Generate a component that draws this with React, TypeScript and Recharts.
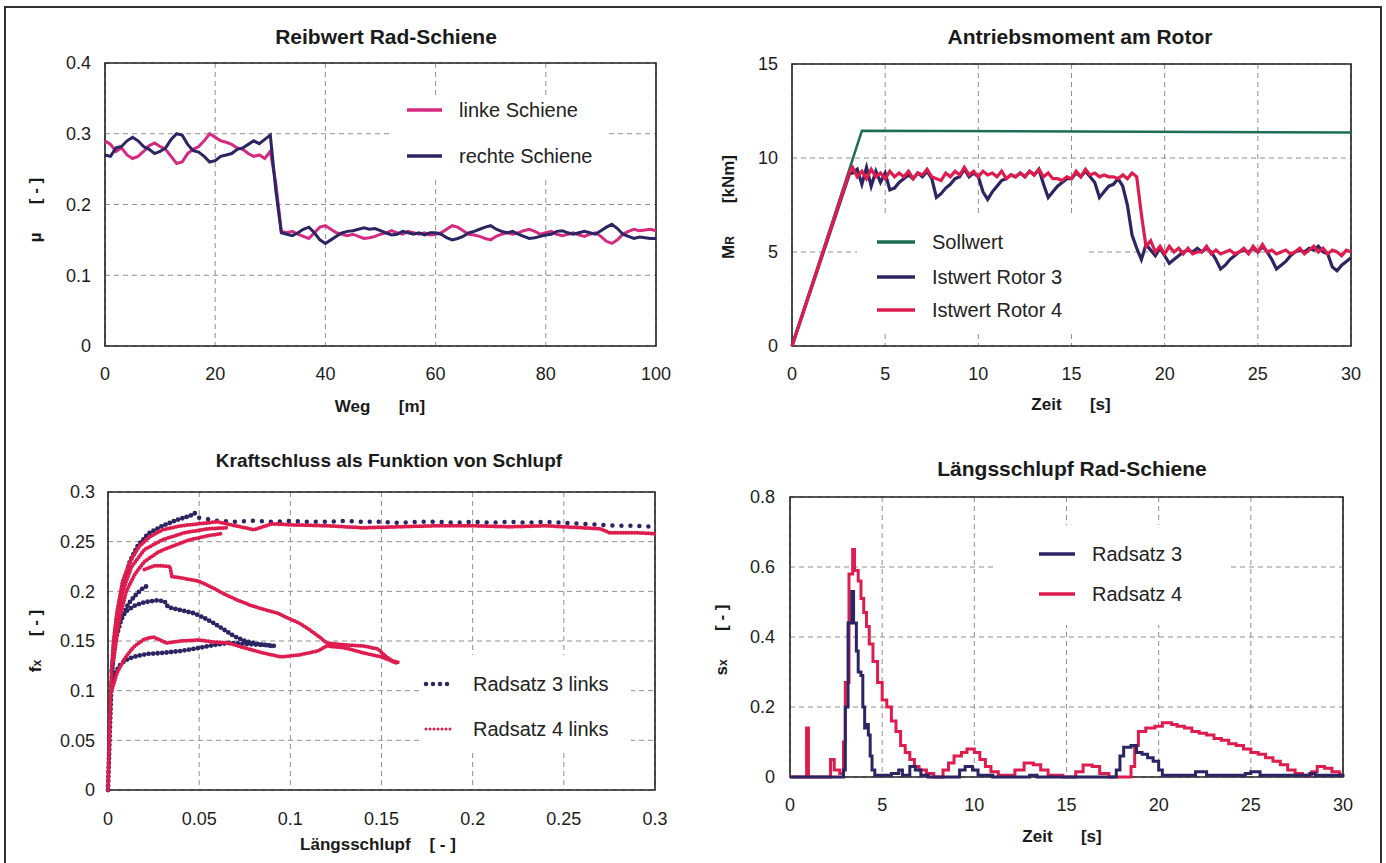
import React from "react";
import {
  LineChart,
  Line,
  XAxis,
  YAxis,
  CartesianGrid,
  ReferenceArea,
  Legend,
} from "recharts";

const FONT = '"Liberation Sans", Arial, Helvetica, sans-serif';
const PINK = "#d42a80";
const NAVY = "#2b2563";
const RED = "#de1d4e";
const GREEN = "#1d6e50";
const GRID = "#8f8f8f";
const FRAME = "#222";

// ---- Reibwert Rad-Schiene (Weg in m, mu) ----
const WEG = [
  0, 1, 2, 3, 4, 5, 6, 7, 8, 9, 10, 11, 12, 13, 14, 15, 16, 17, 18, 19, 20,
  21, 22, 23, 24, 25, 26, 27, 28, 29, 30, 31, 32, 33, 34, 35, 36, 37, 38, 39, 40,
  41, 42, 43, 44, 45, 46, 47, 48, 49, 50, 51, 52, 53, 54, 55, 56, 57, 58, 59, 60,
  61, 62, 63, 64, 65, 66, 67, 68, 69, 70, 71, 72, 73, 74, 75, 76, 77, 78, 79, 80,
  81, 82, 83, 84, 85, 86, 87, 88, 89, 90, 91, 92, 93, 94, 95, 96, 97, 98, 99, 100,
];
const LINKE_SCHIENE = [
  0.29, 0.285, 0.275, 0.28, 0.27, 0.265, 0.268, 0.275, 0.283, 0.287, 0.282,
  0.278, 0.268, 0.258, 0.26, 0.272, 0.278, 0.282, 0.29, 0.3, 0.295,
  0.29, 0.288, 0.285, 0.28, 0.278, 0.272, 0.268, 0.27, 0.265, 0.275,
  0.23, 0.162, 0.16, 0.162, 0.158, 0.155, 0.152, 0.16, 0.168, 0.17,
  0.165, 0.16, 0.158, 0.156, 0.158, 0.155, 0.152, 0.153, 0.155, 0.158,
  0.16, 0.163, 0.16, 0.158, 0.162, 0.16, 0.158, 0.16, 0.157, 0.158,
  0.16, 0.165, 0.17, 0.168, 0.163, 0.158, 0.157, 0.155, 0.152, 0.15,
  0.155, 0.158, 0.16, 0.158, 0.16, 0.163, 0.165, 0.162, 0.158, 0.16,
  0.162, 0.158, 0.156, 0.158, 0.16, 0.157, 0.155, 0.158, 0.16, 0.155,
  0.148, 0.145, 0.15, 0.158, 0.162, 0.165, 0.163, 0.164, 0.165, 0.163,
];
const RECHTE_SCHIENE = [
  0.27, 0.268, 0.28, 0.282, 0.29, 0.295, 0.29, 0.282, 0.278, 0.272, 0.275,
  0.28, 0.292, 0.3, 0.298, 0.285, 0.276, 0.274, 0.268, 0.26, 0.262,
  0.268, 0.27, 0.272, 0.278, 0.28, 0.285, 0.29, 0.286, 0.292, 0.298,
  0.22, 0.16, 0.158, 0.156, 0.16, 0.165, 0.168, 0.16, 0.15, 0.145,
  0.15, 0.155, 0.16, 0.162, 0.163, 0.165, 0.167, 0.165, 0.166, 0.163,
  0.16, 0.157, 0.158, 0.162, 0.16, 0.158, 0.16, 0.157, 0.16, 0.16,
  0.158, 0.153, 0.15, 0.152, 0.155, 0.16, 0.162, 0.165, 0.168, 0.17,
  0.165, 0.162, 0.16, 0.162, 0.158, 0.155, 0.152, 0.153, 0.155, 0.157,
  0.158, 0.162, 0.163, 0.16, 0.158, 0.16, 0.162, 0.16, 0.158, 0.163,
  0.168, 0.172, 0.166, 0.158, 0.155, 0.152, 0.154, 0.153, 0.152, 0.152,
];

// ---- Antriebsmoment am Rotor (Zeit in s, kNm) ----
const ZEIT_SOLL = [0, 3.75, 30];
const SOLLWERT = [0, 11.45, 11.35];
const ZEIT_ROTOR = [
  0, 3.1,
  3.25, 3.5, 3.75, 4, 4.25, 4.5, 4.75, 5, 5.25, 5.5, 5.75, 6,
  6.25, 6.5, 6.75, 7, 7.25, 7.5, 7.75, 8, 8.25, 8.5, 8.75, 9,
  9.25, 9.5, 9.75, 10, 10.25, 10.5, 10.75, 11, 11.25, 11.5, 11.75, 12,
  12.25, 12.5, 12.75, 13, 13.25, 13.5, 13.75, 14, 14.25, 14.5, 14.75, 15,
  15.25, 15.5, 15.75, 16, 16.25, 16.5, 16.75, 17, 17.25, 17.5, 17.75, 18,
  18.25, 18.5, 18.75, 19, 19.25, 19.5, 19.75, 20, 20.25, 20.5, 20.75, 21,
  21.25, 21.5, 21.75, 22, 22.25, 22.5, 22.75, 23, 23.25, 23.5, 23.75, 24,
  24.25, 24.5, 24.75, 25, 25.25, 25.5, 25.75, 26, 26.25, 26.5, 26.75, 27,
  27.25, 27.5, 27.75, 28, 28.25, 28.5, 28.75, 29, 29.25, 29.5, 29.75, 30,
];
const ISTWERT_ROTOR_3 = [
  0, 9.2,
  9.2, 9.4, 8.6, 9.5, 8.5, 9.3, 8.7, 9.2, 8.3, 8.4, 8.7, 8.9,
  9.1, 8.9, 9.2, 9.0, 9.3, 8.9, 7.9, 8.1, 8.4, 8.6, 8.9, 9.0,
  9.4, 9.0, 9.2, 9.0, 8.2, 7.8, 8.2, 8.5, 8.8, 8.9, 9.1, 9.0,
  9.2, 9.0, 9.3, 9.1, 9.4, 8.6, 7.9, 8.2, 8.5, 8.7, 8.9, 8.9,
  9.2, 9.0, 9.3, 9.0, 8.7, 7.9, 8.2, 8.5, 8.6, 8.9, 8.5, 7.5,
  5.9, 5.2, 4.6, 5.4, 5.1, 4.8, 5.2, 4.8, 4.4, 4.6, 4.8, 5.0,
  5.1, 5.0, 5.2, 5.0, 5.2, 5.0, 4.6, 4.1, 4.3, 4.6, 4.8, 5.0,
  5.1, 5.0, 5.2, 5.0, 5.3, 5.0, 4.6, 4.1, 4.3, 4.5, 4.8, 5.0,
  5.1, 5.0, 5.2, 5.1, 5.3, 5.0, 4.9, 4.2, 4.0, 4.3, 4.5, 4.7,
];
const ISTWERT_ROTOR_4 = [
  0, 9.3,
  9.5, 9.0, 9.3, 8.9, 9.4, 9.0, 9.2, 8.9, 9.3, 9.0, 9.2, 9.0,
  9.3, 8.9, 9.2, 9.1, 9.4, 9.0, 8.9, 8.8, 9.2, 9.0, 9.3, 9.1,
  9.5, 9.1, 9.3, 9.0, 9.3, 9.1, 9.2, 9.0, 9.3, 8.9, 9.1, 9.0,
  9.2, 9.0, 9.3, 9.1, 9.4, 9.0, 9.2, 8.9, 8.9, 8.8, 9.0, 8.9,
  9.3, 9.0, 9.4, 9.1, 9.2, 9.0, 9.1, 9.0, 9.0, 8.9, 9.1, 8.9,
  9.2, 9.0, 7.0, 5.3, 5.6, 5.0, 5.3, 4.9, 5.3, 5.0, 5.2, 4.9,
  5.2, 4.9, 5.0, 5.0, 5.3, 4.9, 5.1, 4.9, 5.0, 5.1, 4.9, 5.0,
  5.2, 4.9, 5.3, 5.0, 5.4, 5.0, 5.1, 4.9, 5.0, 5.1, 4.9, 5.0,
  5.2, 4.9, 5.1, 5.3, 5.0, 5.2, 4.9, 5.1, 5.0, 4.8, 5.1, 5.0,
];

// ---- Kraftschluss als Funktion von Schlupf: [Längsschlupf, fx] ----
const R3_AUFSTIEG = [
  [0, 0], [0.001, 0.06], [0.002, 0.11], [0.003, 0.14], [0.005, 0.175], [0.008, 0.205],
  [0.012, 0.23], [0.016, 0.245], [0.022, 0.258], [0.03, 0.266], [0.038, 0.272],
  [0.045, 0.276], [0.048, 0.279],
];
const R3_SPITZE = [
  [0.002, 0.12], [0.004, 0.15], [0.007, 0.17], [0.011, 0.187], [0.015, 0.196],
  [0.019, 0.203], [0.021, 0.205],
];
const R3_ABFALL = [
  [0.006, 0.17], [0.01, 0.18], [0.015, 0.186], [0.02, 0.189], [0.027, 0.191], [0.031, 0.19],
  [0.033, 0.184], [0.04, 0.181], [0.047, 0.178], [0.053, 0.173], [0.058, 0.168],
  [0.064, 0.161], [0.069, 0.155], [0.075, 0.15], [0.082, 0.147], [0.09, 0.145],
];
const R3_UNTEN = [
  [0.002, 0.105], [0.004, 0.118], [0.007, 0.127], [0.011, 0.132], [0.016, 0.135],
  [0.022, 0.137], [0.03, 0.138], [0.04, 0.14], [0.05, 0.143], [0.058, 0.146],
  [0.066, 0.148], [0.076, 0.147], [0.086, 0.146], [0.092, 0.145],
];
const R3_PLATEAU = [
  [0.05, 0.274], [0.06, 0.271], [0.07, 0.27], [0.08, 0.271], [0.09, 0.27], [0.1, 0.271],
  [0.11, 0.27], [0.12, 0.27], [0.13, 0.271], [0.14, 0.27], [0.15, 0.27], [0.16, 0.269],
  [0.17, 0.27], [0.18, 0.27], [0.19, 0.269], [0.2, 0.27], [0.21, 0.269], [0.22, 0.27],
  [0.23, 0.269], [0.24, 0.27], [0.25, 0.269], [0.26, 0.268], [0.27, 0.267], [0.28, 0.266],
  [0.29, 0.266], [0.3, 0.265],
];
const R4_AUFSTIEG = [
  [0, 0], [0.001, 0.07], [0.002, 0.12], [0.003, 0.15], [0.005, 0.18], [0.008, 0.21],
  [0.012, 0.23], [0.017, 0.245], [0.023, 0.255], [0.03, 0.262], [0.04, 0.266],
  [0.05, 0.268], [0.06, 0.27],
];
const R4_INNEN = [
  [0.003, 0.13], [0.006, 0.17], [0.01, 0.2], [0.015, 0.218], [0.02, 0.23], [0.028, 0.24],
  [0.036, 0.246], [0.045, 0.252], [0.055, 0.256], [0.062, 0.258],
];
const R4_MITTE = [
  [0.004, 0.16], [0.008, 0.2], [0.013, 0.225], [0.02, 0.242], [0.03, 0.252],
  [0.042, 0.259], [0.055, 0.263], [0.065, 0.264],
];
const R4_PLATEAU = [
  [0.06, 0.27], [0.07, 0.266], [0.08, 0.262], [0.09, 0.268], [0.1, 0.267], [0.12, 0.266],
  [0.14, 0.264], [0.16, 0.265], [0.18, 0.266], [0.2, 0.266], [0.22, 0.265], [0.24, 0.266],
  [0.26, 0.264], [0.27, 0.263], [0.275, 0.259], [0.29, 0.259], [0.3, 0.258],
];
const R4_ABFALL = [
  [0.02, 0.222], [0.026, 0.226], [0.034, 0.225], [0.035, 0.215], [0.045, 0.212],
  [0.05, 0.21], [0.057, 0.204], [0.063, 0.198], [0.07, 0.192], [0.078, 0.186],
  [0.085, 0.182], [0.093, 0.178], [0.1, 0.172], [0.105, 0.168], [0.11, 0.162],
  [0.116, 0.154], [0.12, 0.148], [0.13, 0.146], [0.14, 0.145], [0.148, 0.142],
  [0.152, 0.135], [0.156, 0.13], [0.16, 0.128],
];
const R4_UNTEN = [
  [0.002, 0.1], [0.005, 0.118], [0.009, 0.132], [0.014, 0.144], [0.02, 0.152],
  [0.025, 0.154], [0.032, 0.148], [0.04, 0.15], [0.05, 0.151], [0.058, 0.149],
  [0.066, 0.148], [0.075, 0.143], [0.085, 0.138], [0.095, 0.134], [0.105, 0.136],
  [0.115, 0.14], [0.12, 0.145], [0.13, 0.143], [0.14, 0.138], [0.15, 0.134], [0.158, 0.128],
];

// ---- Längsschlupf Rad-Schiene: [Zeit, sx] ----
const RADSATZ_3 = [
  [0, 0], [2.9, 0.02], [3.0, 0.2], [3.15, 0.44], [3.35, 0.53], [3.45, 0.44], [3.6, 0.36],
  [3.7, 0.3], [3.85, 0.29], [3.95, 0.2], [4.05, 0.14], [4.15, 0.15], [4.25, 0.12],
  [4.35, 0.06], [4.45, 0.02], [4.6, 0.005], [5.5, 0.01], [5.9, 0.02], [6.1, 0.005],
  [6.5, 0.03], [6.8, 0.02], [7.1, 0.005], [7.5, 0], [9.2, 0.02], [9.5, 0.03], [9.9, 0.02],
  [10.2, 0.005], [11, 0], [13.0, 0.005], [13.4, 0], [17.7, 0.02], [17.9, 0.06],
  [18.1, 0.085], [18.5, 0.09], [18.8, 0.07], [19.1, 0.065], [19.4, 0.055], [19.7, 0.045],
  [20.0, 0.02], [20.2, 0.005], [21.5, 0.005], [22.0, 0.015], [22.6, 0.005], [24.7, 0.01],
  [25.0, 0.015], [25.5, 0.005], [28.2, 0.01], [28.5, 0.005], [30, 0],
];
const RADSATZ_4 = [
  [0, 0], [0.9, 0.14], [1.0, 0], [2.2, 0.05], [2.4, 0.02], [2.7, 0.01], [2.9, 0.1],
  [3.0, 0.27], [3.2, 0.58], [3.4, 0.65], [3.5, 0.59], [3.7, 0.56], [3.85, 0.51], [4.0, 0.47],
  [4.15, 0.43], [4.3, 0.38], [4.5, 0.33], [4.75, 0.27], [5.0, 0.22], [5.25, 0.2],
  [5.5, 0.16], [5.75, 0.13], [6.0, 0.09], [6.25, 0.07], [6.5, 0.05], [6.75, 0.03],
  [7.0, 0.02], [7.4, 0.01], [7.8, 0], [8.3, 0.02], [8.6, 0.04], [8.9, 0.06], [9.3, 0.07],
  [9.6, 0.08], [10.0, 0.07], [10.3, 0.05], [10.6, 0.03], [10.9, 0.015], [11.3, 0.005],
  [12.2, 0.02], [12.7, 0.04], [13.2, 0.035], [13.6, 0.02], [14.0, 0.005], [14.8, 0],
  [15.5, 0.015], [15.9, 0.034], [16.4, 0.03], [16.8, 0.01], [17.3, 0], [18.5, 0.03],
  [18.7, 0.09], [18.9, 0.13], [19.3, 0.14], [19.8, 0.145], [20.2, 0.155], [20.7, 0.15],
  [21.0, 0.145], [21.4, 0.14], [21.8, 0.13], [22.2, 0.125], [22.6, 0.12], [23.0, 0.11],
  [23.4, 0.105], [23.8, 0.095], [24.2, 0.09], [24.6, 0.08], [25.0, 0.07], [25.4, 0.065],
  [25.8, 0.055], [26.2, 0.045], [26.6, 0.035], [27.0, 0.02], [27.4, 0.01], [27.8, 0.005],
  [28.3, 0.015], [28.6, 0.03], [29.0, 0.025], [29.4, 0.015], [29.8, 0.008], [30, 0.008],
];

const zip = (xs: number[], ys: number[]) => xs.map((x, i) => ({ x, y: ys[i] }));
const pts = (arr: number[][]) => arr.map(([x, y]) => ({ x, y }));

const TICK = { fontSize: 18, fill: "#1d1d1d", fontFamily: FONT };

type Row = { name: string; color: string; width: number; dash?: string };

function LegendBox({ rows, w, h, rowY, lineX, textX }: {
  rows: Row[]; w: number; h: number; rowY: number[]; lineX: [number, number]; textX: number;
}) {
  return (
    <div style={{ position: "relative", width: w, height: h, background: "#fff" }}>
      {rows.map((r, i) => (
        <div key={r.name} style={{ position: "absolute", left: 0, top: rowY[i] - 13, width: w, height: 26 }}>
          <svg style={{ position: "absolute", left: 0, top: 0 }} width={w} height={26}>
            <line
              x1={lineX[0]} x2={lineX[1]} y1={13} y2={13}
              stroke={r.color} strokeWidth={r.width}
              strokeDasharray={r.dash} strokeLinecap={r.dash ? "round" : "butt"}
            />
          </svg>
          <span
            style={{
              position: "absolute", left: textX, top: 0, lineHeight: "26px",
              fontSize: 20, color: "#222", fontFamily: FONT, whiteSpace: "nowrap",
            }}
          >
            {r.name}
          </span>
        </div>
      ))}
    </div>
  );
}

function Text({ x, y, size, bold = true, children }: any) {
  return (
    <div
      style={{
        position: "absolute", left: x, top: y, transform: "translate(-50%, -50%)",
        fontSize: size, fontWeight: bold ? 700 : 400, fontFamily: FONT, color: "#1a1a1a",
        whiteSpace: "pre",
      }}
    >
      {children}
    </div>
  );
}

function VText({ x, y, children }: any) {
  return (
    <div
      style={{
        position: "absolute", left: x, top: y, transform: "translate(-50%, -50%) rotate(-90deg)",
        fontSize: 17, fontWeight: 700, fontFamily: FONT, color: "#1a1a1a", whiteSpace: "pre",
      }}
    >
      {children}
    </div>
  );
}

function Box({ left, top, children }: any) {
  return <div style={{ position: "absolute", left, top }}>{children}</div>;
}

export default function App() {
  const sub = { fontSize: 12 };
  return (
    <div
      style={{
        position: "absolute", left: 0, top: 0, width: 1386, height: 863,
        background: "#fff", overflow: "hidden", fontFamily: FONT,
      }}
    >
      <div
        style={{
          position: "absolute", left: 4, top: 6, width: 1374, height: 880,
          border: "2px solid #333", borderBottom: "none",
        }}
      />

      {/* Reibwert Rad-Schiene */}
      <Box left={0} top={0}>
        <LineChart width={693} height={431} margin={{ top: 63, right: 37, left: 0, bottom: 25 }}>
          <CartesianGrid stroke={GRID} strokeDasharray="5 4" />
          <XAxis
            type="number" dataKey="x" domain={[0, 100]} ticks={[0, 20, 40, 60, 80, 100]}
            height={60} tickSize={0} tickMargin={21} tickLine={false} axisLine={false} tick={TICK}
          />
          <YAxis
            type="number" dataKey="y" domain={[0, 0.4]} ticks={[0, 0.1, 0.2, 0.3, 0.4]}
            width={105} tickSize={0} tickMargin={14} tickLine={false} axisLine={false} tick={TICK}
          />
          <Line data={zip(WEG, LINKE_SCHIENE)} dataKey="y" name="linke Schiene" stroke={PINK}
            strokeWidth={3} dot={false} isAnimationActive={false} />
          <Line data={zip(WEG, RECHTE_SCHIENE)} dataKey="y" name="rechte Schiene" stroke={NAVY}
            strokeWidth={3} dot={false} isAnimationActive={false} />
          <ReferenceArea x1={0} x2={100} y1={0} y2={0.4} fill="none" stroke={FRAME} strokeWidth={1.6} />
          <Legend
            layout="vertical" align="center" verticalAlign="middle"
            wrapperStyle={{ left: 392, top: 97, width: 215, height: 81 }}
            content={() => (
              <LegendBox
                w={215} h={81} rowY={[13, 59]} lineX={[15, 50]} textX={67}
                rows={[
                  { name: "linke Schiene", color: PINK, width: 3.5 },
                  { name: "rechte Schiene", color: NAVY, width: 3.5 },
                ]}
              />
            )}
          />
        </LineChart>
      </Box>

      {/* Antriebsmoment am Rotor */}
      <Box left={693} top={0}>
        <LineChart width={693} height={431} margin={{ top: 64, right: 35, left: 0, bottom: 25 }}>
          <CartesianGrid stroke={GRID} strokeDasharray="5 4" />
          <XAxis
            type="number" dataKey="x" domain={[0, 30]} ticks={[0, 5, 10, 15, 20, 25, 30]}
            height={60} tickSize={0} tickMargin={21} tickLine={false} axisLine={false} tick={TICK}
          />
          <YAxis
            type="number" dataKey="y" domain={[0, 15]} ticks={[0, 5, 10, 15]}
            width={99} tickSize={0} tickMargin={14} tickLine={false} axisLine={false} tick={TICK}
          />
          <Line data={zip(ZEIT_SOLL, SOLLWERT)} dataKey="y" name="Sollwert" stroke={GREEN}
            strokeWidth={2.5} dot={false} isAnimationActive={false} />
          <Line data={zip(ZEIT_ROTOR, ISTWERT_ROTOR_3)} dataKey="y" name="Istwert Rotor 3" stroke={NAVY}
            strokeWidth={3.2} dot={false} isAnimationActive={false} />
          <Line data={zip(ZEIT_ROTOR, ISTWERT_ROTOR_4)} dataKey="y" name="Istwert Rotor 4" stroke={RED}
            strokeWidth={3.2} dot={false} isAnimationActive={false} />
          <ReferenceArea x1={0} x2={30} y1={0} y2={15} fill="none" stroke={FRAME} strokeWidth={1.6} />
          <Legend
            layout="vertical" align="center" verticalAlign="middle"
            wrapperStyle={{ left: 164, top: 215, width: 229, height: 117 }}
            content={() => (
              <LegendBox
                w={229} h={117} rowY={[27, 62, 95]} lineX={[20, 58]} textX={75}
                rows={[
                  { name: "Sollwert", color: GREEN, width: 3.5 },
                  { name: "Istwert Rotor 3", color: NAVY, width: 3.5 },
                  { name: "Istwert Rotor 4", color: RED, width: 3.5 },
                ]}
              />
            )}
          />
        </LineChart>
      </Box>

      {/* Kraftschluss als Funktion von Schlupf */}
      <Box left={0} top={431}>
        <LineChart width={693} height={432} margin={{ top: 61, right: 38, left: 0, bottom: 13 }}>
          <CartesianGrid stroke={GRID} strokeDasharray="5 4" />
          <XAxis
            type="number" dataKey="x" domain={[0, 0.3]} ticks={[0, 0.05, 0.1, 0.15, 0.2, 0.25, 0.3]}
            height={60} tickSize={0} tickMargin={22} tickLine={false} axisLine={false} tick={TICK}
          />
          <YAxis
            type="number" dataKey="y" domain={[0, 0.3]} ticks={[0, 0.05, 0.1, 0.15, 0.2, 0.25, 0.3]}
            width={108} tickSize={0} tickMargin={13} tickLine={false} axisLine={false} tick={TICK}
          />
          {[R3_AUFSTIEG, R3_SPITZE, R3_ABFALL, R3_UNTEN].map((b, i) => (
            <Line key={"r3" + i} data={pts(b)} dataKey="y" name={"r3-" + i} legendType="none"
              stroke={NAVY} strokeWidth={4.8} strokeDasharray="0 4.5" strokeLinecap="round"
              dot={false} isAnimationActive={false} />
          ))}
          <Line data={pts(R3_PLATEAU)} dataKey="y" name="Radsatz 3 links" stroke={NAVY}
            strokeWidth={4.5} strokeDasharray="0 9" strokeLinecap="round"
            dot={false} isAnimationActive={false} />
          {[R4_AUFSTIEG, R4_MITTE, R4_INNEN, R4_ABFALL, R4_UNTEN].map((b, i) => (
            <Line key={"r4" + i} data={pts(b)} dataKey="y" name={"r4-" + i} legendType="none"
              stroke={RED} strokeWidth={4} strokeDasharray="0 2.8" strokeLinecap="round"
              dot={false} isAnimationActive={false} />
          ))}
          <Line data={pts(R4_PLATEAU)} dataKey="y" name="Radsatz 4 links" stroke={RED}
            strokeWidth={4} strokeDasharray="0 2.8" strokeLinecap="round"
            dot={false} isAnimationActive={false} />
          <ReferenceArea x1={0} x2={0.3} y1={0} y2={0.3} fill="none" stroke={FRAME} strokeWidth={1.6} />
          <Legend
            layout="vertical" align="center" verticalAlign="middle"
            wrapperStyle={{ left: 420, top: 224, width: 211, height: 95 }}
            content={() => (
              <LegendBox
                w={211} h={95} rowY={[29, 74]} lineX={[6, 31]} textX={53}
                rows={[
                  { name: "Radsatz 3 links", color: NAVY, width: 4.5, dash: "0 7" },
                  { name: "Radsatz 4 links", color: RED, width: 3, dash: "0 4" },
                ]}
              />
            )}
          />
        </LineChart>
      </Box>

      {/* Längsschlupf Rad-Schiene */}
      <Box left={693} top={431}>
        <LineChart width={693} height={432} margin={{ top: 66, right: 43, left: 0, bottom: 26 }}>
          <CartesianGrid stroke={GRID} strokeDasharray="5 4" />
          <XAxis
            type="number" dataKey="x" domain={[0, 30]} ticks={[0, 5, 10, 15, 20, 25, 30]}
            height={60} tickSize={0} tickMargin={21} tickLine={false} axisLine={false} tick={TICK}
          />
          <YAxis
            type="number" dataKey="y" domain={[0, 0.8]} ticks={[0, 0.2, 0.4, 0.6, 0.8]}
            width={97} tickSize={0} tickMargin={15} tickLine={false} axisLine={false} tick={TICK}
          />
          <Line data={pts(RADSATZ_4)} dataKey="y" name="Radsatz 4" type="stepAfter" stroke={RED}
            strokeWidth={3} dot={false} isAnimationActive={false} />
          <Line data={pts(RADSATZ_3)} dataKey="y" name="Radsatz 3" type="stepAfter" stroke={NAVY}
            strokeWidth={3} dot={false} isAnimationActive={false} />
          <ReferenceArea x1={0} x2={30} y1={0} y2={0.8} fill="none" stroke={FRAME} strokeWidth={1.6} />
          <Legend
            layout="vertical" align="center" verticalAlign="middle"
            wrapperStyle={{ left: 300, top: 94, width: 238, height: 100 }}
            content={() => (
              <LegendBox
                w={238} h={100} rowY={[29, 69]} lineX={[46, 82]} textX={99}
                rows={[
                  { name: "Radsatz 3", color: NAVY, width: 3.5 },
                  { name: "Radsatz 4", color: RED, width: 3.5 },
                ]}
              />
            )}
          />
        </LineChart>
      </Box>

      {/* titles */}
      <Text x={386} y={37} size={21}>Reibwert Rad-Schiene</Text>
      <Text x={1080} y={37} size={21}>Antriebsmoment am Rotor</Text>
      <Text x={389} y={461} size={19}>Kraftschluss als Funktion von Schlupf</Text>
      <Text x={1072} y={469} size={21}>Längsschlupf Rad-Schiene</Text>

      {/* axis titles */}
      <Text x={380} y={407} size={17}>{"Weg      [m]"}</Text>
      <Text x={1071} y={405} size={17}>{"Zeit      [s]"}</Text>
      <Text x={378} y={845} size={17}>{"Längsschlupf    [ - ]"}</Text>
      <Text x={1062} y={837} size={17}>{"Zeit      [s]"}</Text>

      <VText x={36} y={210}>{"µ      [ - ]"}</VText>
      <VText x={729} y={207}>
        <span>M<span style={sub}>R</span>{"       [kNm]"}</span>
      </VText>
      <VText x={36} y={641}>
        <span>f<span style={sub}>x</span>{"     [ - ]"}</span>
      </VText>
      <VText x={722} y={640}>
        <span>s<span style={sub}>x</span>{"      [ - ]"}</span>
      </VText>
    </div>
  );
}
